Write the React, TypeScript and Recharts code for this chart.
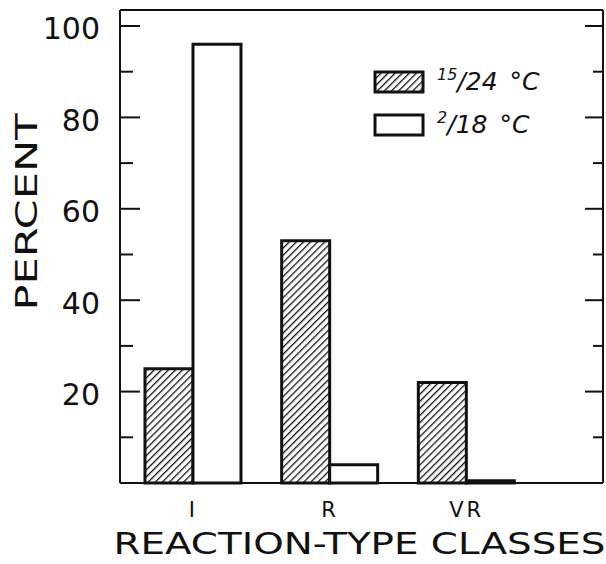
import React from "react";
import { ComposedChart, Bar, Line, XAxis, YAxis, Legend, Label } from "recharts";

const categories = ["I", "R", "VR"];
const warmValues = [25, 53, 22];
const coolValues = [96, 4, 0.5];
const yTicks = [0, 10, 20, 30, 40, 50, 60, 70, 80, 90, 100];

const series = [
  { key: "warm", num: "15", den: "24", fill: "url(#hatch)" },
  { key: "cool", num: "2", den: "18", fill: "#fff" },
];

const data = categories.map((c, i) => ({
  cls: c,
  warm: warmValues[i],
  cool: coolValues[i],
}));

const FONT = '"DejaVu Sans", sans-serif';
const INK = "#111";

const LeftTick = (props: any) => {
  const { x, y, payload } = props;
  const major = payload.value % 20 === 0;
  return (
    <g>
      <line x1={x} x2={x + (major ? 20 : 13)} y1={y} y2={y} stroke={INK} strokeWidth={2} />
      {major && payload.value > 0 && (
        <text x={x - 20} y={y + 3} textAnchor="end" dominantBaseline="central"
          fontSize={30} fontFamily={FONT} fill={INK}>
          {payload.value}
        </text>
      )}
    </g>
  );
};

const RightTick = (props: any) => {
  const { x, y, payload } = props;
  const major = payload.value % 20 === 0;
  return <line x1={x} x2={x - (major ? 18 : 10)} y1={y} y2={y} stroke={INK} strokeWidth={2} />;
};

const BottomTick = (props: any) => {
  const { x, y, payload } = props;
  return (
    <text x={x} y={y + 34} textAnchor="middle" fontSize={21} fontFamily={FONT}
      fill={INK} letterSpacing={3}>
      {payload.value}
    </text>
  );
};

const XTitle = (props: any) => {
  const { x, y, width } = props.viewBox;
  return (
    <text x={x + width / 2 - 2} y={y + 71} textAnchor="middle" fontSize={30}
      fontFamily={FONT} fill={INK} textLength={492} lengthAdjust="spacingAndGlyphs">
      REACTION-TYPE CLASSES
    </text>
  );
};

const YTitle = (props: any) => {
  const { x, y } = props.viewBox;
  const cx = x + 37;
  const cy = y + 202;
  return (
    <text x={cx} y={cy} textAnchor="middle" fontSize={31} fontFamily={FONT} fill={INK}
      transform={`rotate(-90, ${cx}, ${cy})`} textLength={197} lengthAdjust="spacingAndGlyphs">
      PERCENT
    </text>
  );
};

const LegendBox = () => (
  <svg width={220} height={90}>
    {series.map((s, i) => {
      const top = 10 + i * 43;
      return (
        <g key={s.key}>
          <rect x={5} y={top} width={48} height={20} fill={s.fill} stroke={INK} strokeWidth={3} />
          <text x={67} y={top + 18} fontStyle="italic" fontFamily={FONT} fill={INK}>
            <tspan fontSize={16} dy={-10}>{s.num}</tspan>
            <tspan fontSize={25} dy={10}>/{s.den}</tspan>
            <tspan fontSize={25} dx={12}>°C</tspan>
          </text>
        </g>
      );
    })}
  </svg>
);

export default function App() {
  return (
    <div style={{ position: "absolute", left: 0, top: 0, width: 606, height: 564, background: "#fff" }}>
      <ComposedChart width={606} height={564} data={data} barGap={0} barSize={48}
        margin={{ top: 9, right: 2, bottom: 0, left: 0 }}>
        <defs>
          <pattern id="hatch" patternUnits="userSpaceOnUse" width={5} height={5}
            patternTransform="rotate(45)">
            <rect width={5} height={5} fill="#fff" />
            <line x1={0} y1={0} x2={0} y2={5} stroke={INK} strokeWidth={2.6} />
          </pattern>
        </defs>
        <XAxis dataKey="cls" height={81} padding={{ left: 5, right: 68 }}
          axisLine={{ stroke: INK, strokeWidth: 2 }} tickLine={false} tickSize={0}
          tickMargin={0} tick={<BottomTick />}>
          <Label content={XTitle} />
        </XAxis>
        <XAxis xAxisId="top" dataKey="cls" orientation="top" height={1} tick={false}
          tickLine={false} axisLine={{ stroke: INK, strokeWidth: 2 }} />
        <YAxis width={120} domain={[0, 103.5]} ticks={yTicks} interval={0}
          axisLine={{ stroke: INK, strokeWidth: 2 }} tickLine={false} tickSize={0}
          tickMargin={0} tick={<LeftTick />}>
          <Label content={YTitle} />
        </YAxis>
        <YAxis yAxisId="right" orientation="right" width={1} domain={[0, 103.5]}
          allowDataOverflow ticks={yTicks} interval={0} axisLine={{ stroke: INK, strokeWidth: 2 }}
          tickLine={false} tickSize={0} tickMargin={0} tick={<RightTick />} />
        <Legend content={LegendBox} layout="horizontal" verticalAlign="middle" align="center"
          wrapperStyle={{ position: "absolute", top: 62, left: 370, width: 220 }} />
        {series.map((s) => (
          <Bar key={s.key} dataKey={s.key} fill={s.fill} stroke={INK} strokeWidth={3}
            isAnimationActive={false} />
        ))}
        {/* invisible series so the top and right frame axes get drawn */}
        <Line dataKey="warm" xAxisId="top" yAxisId="right" stroke="none" dot={false}
          activeDot={false} legendType="none" isAnimationActive={false} />
      </ComposedChart>
    </div>
  );
}
